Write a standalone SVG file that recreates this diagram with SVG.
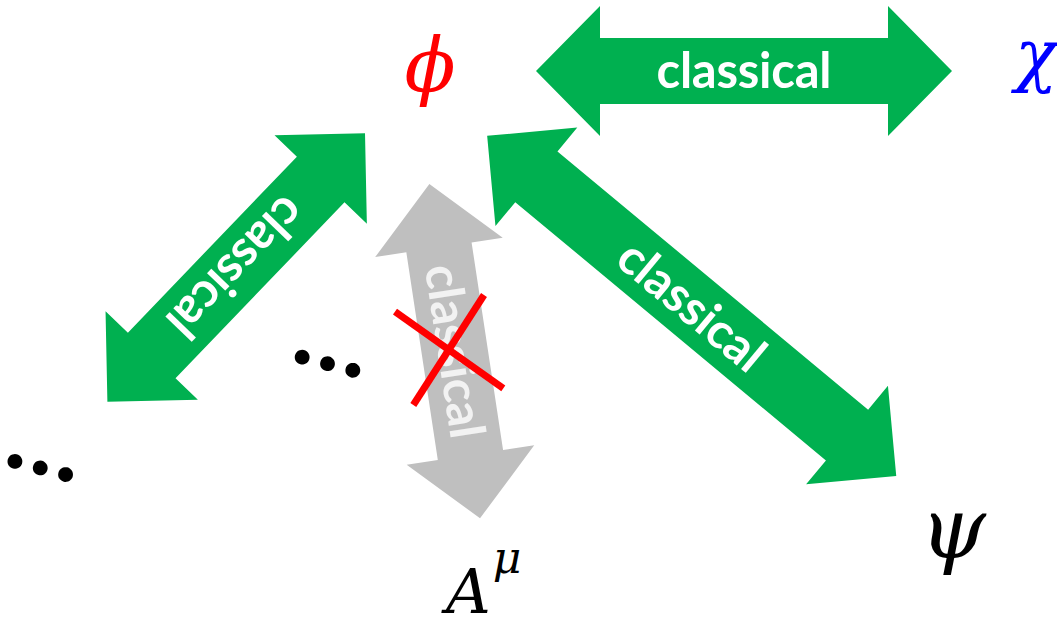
<svg xmlns="http://www.w3.org/2000/svg" width="1057" height="619" viewBox="0 0 1057 619">
  <style>
    .green { fill: #00b050; }
    .grey { fill: #bfbfbf; }
    .lbl { font-family: Lato, "Liberation Sans", sans-serif; font-weight: bold; font-size: 49px; fill: #ffffff; text-anchor: middle; }
    .lbl-dim { fill: #f2f2f2; }
    .math { font-family: "DejaVu Serif", "Liberation Serif", serif; font-style: italic; }
    .dots { font-family: Lato, "Liberation Sans", sans-serif; font-weight: bold; font-size: 98px; fill: #000000; text-anchor: middle; }
    .cross { stroke: #ff0000; stroke-width: 7; fill: none; }
  </style>

  <!-- double-headed block arrows between the fields -->
  <g id="connectors">
    <!-- phi <-> A^mu (struck out) -->
    <g id="link-phi-A" transform="translate(454.7,351.2) rotate(81.38)">
      <path class="grey" d="M-169,0 L-105,-64.5 L-105,-33 L105,-33 L105,-64.5 L169,0 L105,64.5 L105,33 L-105,33 L-105,64.5 Z"/>
      <text class="lbl lbl-dim" x="0" y="17" textLength="175">classical</text>
    </g>
    <g id="strike">
      <line class="cross" x1="395" y1="311.7" x2="503.3" y2="388.3"/>
      <line class="cross" x1="484" y1="295" x2="413.3" y2="405"/>
    </g>

    <!-- phi <-> chi -->
    <g id="link-phi-chi" transform="translate(744,71)">
      <path class="green" d="M-208,0 L-144,-65 L-144,-33 L144,-33 L144,-65 L208,0 L144,65 L144,33 L-144,33 L-144,65 Z"/>
      <text class="lbl" x="0" y="17" textLength="175">classical</text>
    </g>

    <!-- phi <-> psi -->
    <g id="link-phi-psi" transform="translate(691.7,305.9) rotate(39.74)">
      <path class="green" d="M-266,0 L-202,-64 L-202,-33 L202,-33 L202,-64 L266,0 L202,64 L202,33 L-202,33 L-202,64 Z"/>
      <text class="lbl" x="0" y="17" textLength="175">classical</text>
    </g>

    <!-- phi <-> further fields (lower left) -->
    <g id="link-phi-more" transform="translate(236.2,267.5) rotate(-46.17)">
      <path class="green" d="M-186,0 L-122,-64 L-122,-33 L122,-33 L122,-64 L186,0 L122,64 L122,33 L-122,33 L-122,64 Z"/>
      <text class="lbl" x="0" y="17" textLength="175" transform="rotate(180)">classical</text>
    </g>
  </g>

  <!-- field labels -->
  <g id="node-phi">
    <text class="math" x="430" y="91" font-size="75" fill="#ff0000" text-anchor="middle">ϕ</text>
  </g>
  <g id="node-chi">
    <text class="math" x="1015" y="79" font-size="70" fill="#0000ff">χ</text>
  </g>
  <g id="node-psi">
    <text class="math" x="953" y="557" font-size="84" fill="#000000" text-anchor="middle">ψ</text>
  </g>
  <g id="node-A">
    <text class="math" x="446" y="613" font-size="62" fill="#000000">A<tspan font-size="44" dx="2" dy="-40">μ</tspan></text>
  </g>
  <g id="node-more-left">
    <text class="dots" transform="translate(40,468.7) rotate(14.5)" x="0" y="6">…</text>
  </g>
  <g id="node-more-mid">
    <text class="dots" transform="translate(327.3,364.3) rotate(14.5)" x="0" y="6">…</text>
  </g>
</svg>
